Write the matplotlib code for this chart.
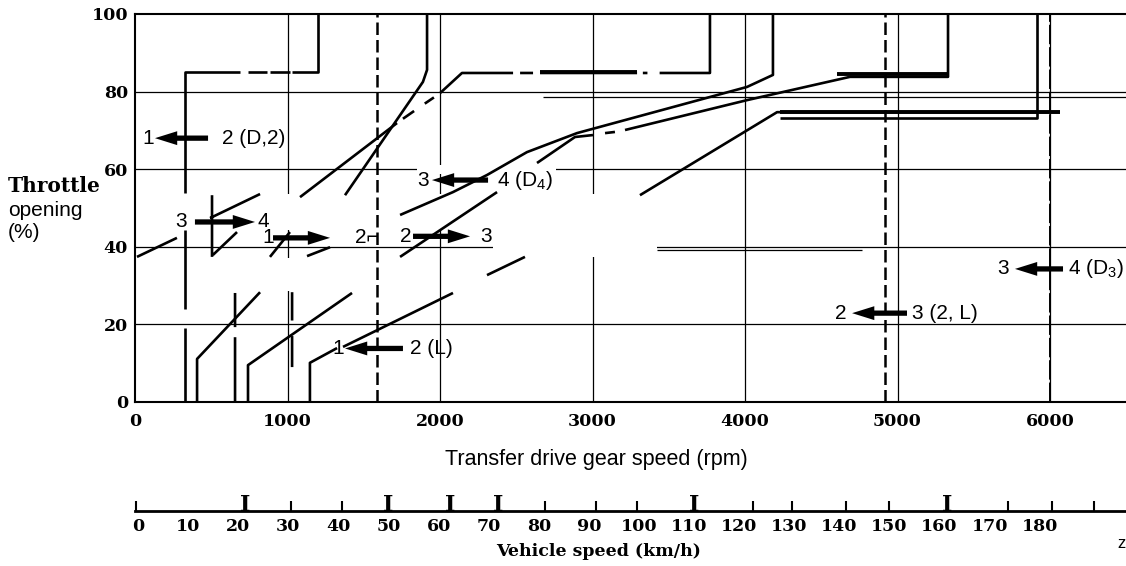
#shift diagram: throttle opening vs transfer drive gear speed, with a vehicle speed scale below
import numpy as np
import matplotlib
matplotlib.use('Agg')
import matplotlib.pyplot as plt
from matplotlib.patches import Rectangle

nan = np.nan

plt.rcParams['font.family'] = ['Liberation Sans', 'DejaVu Sans']
plt.rcParams['mathtext.fontset'] = 'custom'
plt.rcParams['mathtext.rm'] = 'Liberation Sans'
plt.rcParams['mathtext.default'] = 'regular'

#axis values
rpm_ticks = [0, 1000, 2000, 3000, 4000, 5000, 6000]
pct_ticks = [0, 20, 40, 60, 80, 100]
kmh_ticks = list(range(0, 190, 10))
kmh_small = [-0.4, 10, 30.6, 40.8, 81.3, 91.5, 99.5, 122.7, 130.6, 141.4, 149.8, 173.6, 182.4, 190.8]
kmh_big = [21.4, 49.9, 62.3, 71.9, 111.1, 161.6]

#shift lines (rpm, throttle %), nan = break in the printed line
d12_rpm = [328, 328, nan, 328, 328, nan, 328, 328, 689, nan, 741, 865, nan, 885, 1016, nan, 1030, 1200, 1200]
d12_pct = [0, 19, nan, 24, 44.3, nan, 53.9, 85, 85, nan, 85, 85, nan, 85, 85, nan, 85, 85, 100]

u12_rpm = [407, 407, 820, nan, 885, 1016, nan, 1377, 1888, 1915, 1915]
u12_pct = [0, 11.1, 28.3, nan, 37.4, 43.8, nan, 53.3, 82.5, 85.6, 100]

u23_rpm = [741, 741, 1423, nan, 1738, 2374, nan, 2636, 2885, 3003, nan, 3082, 3147, nan, 3213, 4013, 4688, 5331, 5331]
u23_pct = [0, 9.5, 28.1, nan, 37.4, 54.1, nan, 61.6, 68.3, 68.8, nan, 69.3, 69.6, nan, 70.1, 77.8, 83.8, 83.8, 100]

d34_rpm = [1128, 1279, nan, 1738, 2085, 2308, 2570, 2898, 4013, 4183, 4183]
d34_pct = [37.6, 39.9, nan, 48.2, 54.1, 58.5, 64.4, 69.3, 81.2, 84.3, 100]

u34_rpm = [1147, 1147, 1325, nan, 1364, 2085, nan, 2308, 2557, nan, 3311, 4210, 6065]
u34_pct = [0, 10.1, 13.9, nan, 14.2, 28.1, nan, 32.7, 37.4, nan, 53.3, 74.7, 74.7]

kd_rpm = [4229, 5915, 5915]
kd_pct = [73.2, 73.2, 100]

u23b_rpm = [1082, 1718, nan, 1757, 1830, nan, 1900, 1960, nan, 2000, 2144, 2479, nan, 2525, 2610,
            nan, 2656, 3292, nan, 3330, 3360, nan, 3440, 3770, 3770]
u23b_pct = [52.8, 71.9, nan, 73.0, 75.0, nan, 76.9, 78.5, nan, 79.6, 84.8, 84.8, nan, 84.8, 84.8,
            nan, 84.8, 84.8, nan, 84.8, 84.8, nan, 84.8, 84.8, 100]

short_rpm = [13, 275, nan, 511, 669, nan, 492, 820, nan, 505, 505, nan, 656, 656, nan, 656, 656,
             nan, 1030, 1030, nan, 1030, 1030]
short_pct = [37.4, 42.3, nan, 37.9, 43.8, nan, 47.4, 53.6, nan, 37.4, 53.3, nan, 0, 16.7, nan, 19.3, 28.1,
             nan, 9.0, 17.0, nan, 21.0, 28.3]

#heavy horizontal bars: start rpm, end rpm, throttle
bar_start = [2656, 4603, 4229]
bar_end = [3292, 5331, 6065]
bar_pct = [85.0, 84.6, 74.7]

#dashed vertical downshift lines
dash_rpm = [1587, 4918]
dashdot_rpm = [6000]

#extra thin horizontals
extra_start = [2675, 3420]
extra_end = [6498, 4770]
extra_pct = [78.6, 39.3]

#blank areas of the printed sheet: rpm0, rpm1, pct0, pct1
blank_bands = [(150, 3400, 44.3, 53.6), (150, 1750, 28.6, 37.2), (2350, 3420, 37.3, 53.6), (1850, 2760, 58.8, 61.0)]

#shift labels: left text, left text x, arrow tail, arrow tip, right text, right text x, throttle
label_left = ['1', '3', '3', '1', '2', '1', '2', '3']
label_left_x = [85, 1888, 302, 872, 1777, 1331, 4629, 5691]
arrow_tail = [479, 2315, 393, 905, 1823, 1757, 5062, 6085]
arrow_tip = [131, 1947, 787, 1279, 2197, 1377, 4702, 5770]
label_right = ['2 (D,2)', '4 (D$_4$)', '4', '2\u2310', '3', '2 (L)', '3 (2, L)', '4 (D$_3$)']
label_right_x = [570, 2374, 800, 1443, 2262, 1803, 5095, 6118]
label_pct = [68.0, 57.2, 46.4, 42.3, 42.7, 13.8, 22.9, 34.3]

serif = dict(family='DejaVu Serif', weight='bold')

fig = plt.figure(figsize=(11.26, 5.66), dpi=100)
ax = fig.add_axes([135/1126, 1-402/566, 991/1126, 388/566])
ax.set_xlim(0, 6498)
ax.set_ylim(0, 100)

#grid
ax.vlines(rpm_ticks[1:], 0, 100, colors='k', lw=0.9, zorder=1)
ax.hlines(pct_ticks[1:-1], 0, 6498, colors='k', lw=0.9, zorder=1)
ax.hlines(extra_pct, extra_start, extra_end, colors='k', lw=0.9, zorder=1)
for r0, r1, p0, p1 in blank_bands:
    ax.add_patch(Rectangle((r0, p0), r1-r0, p1-p0, fc='white', ec='none', zorder=1.5))

#shift lines
for xs, ys in [(d12_rpm, d12_pct), (u12_rpm, u12_pct), (u23_rpm, u23_pct), (d34_rpm, d34_pct),
               (u34_rpm, u34_pct), (kd_rpm, kd_pct), (u23b_rpm, u23b_pct), (short_rpm, short_pct)]:
    ax.plot(xs, ys, color='k', lw=1.9, solid_capstyle='butt', zorder=3)
ax.hlines(bar_pct, bar_start, bar_end, colors='k', lw=2.8, zorder=3)
ax.vlines(dash_rpm, 0, 100, colors='k', lw=1.8, linestyles=(0, (5, 2)), zorder=3)
ax.vlines(dashdot_rpm, 0, 100, colors='k', lw=1.4, linestyles=(0, (10, 1.5)), zorder=3)

#shift labels with arrows
for i in range(len(label_left)):
    y = label_pct[i]
    ax.text(label_left_x[i], y, label_left[i], ha='center', va='center', fontsize=15, zorder=5)
    ax.text(label_right_x[i], y, label_right[i], ha='left', va='center', fontsize=15, zorder=5)
    ax.annotate('', xy=(arrow_tip[i], y), xytext=(arrow_tail[i], y),
                arrowprops=dict(arrowstyle='simple,head_length=1.6,head_width=1.0,tail_width=0.38',
                                fc='k', ec='k', lw=0, shrinkA=0, shrinkB=0, mutation_scale=10), zorder=4)

#axes look
for s in ['left', 'top', 'bottom']:
    ax.spines[s].set_linewidth(1.5)
ax.spines['right'].set_visible(False)
ax.set_xticks(rpm_ticks, labels=[str(v) for v in rpm_ticks], fontsize=12.5, **serif)
ax.set_yticks(pct_ticks, labels=[str(v) for v in pct_ticks], fontsize=12.5, **serif)
ax.tick_params(axis='x', length=0, pad=8)
ax.tick_params(axis='y', length=0, pad=5)

fig.text(8/1126, 1-186/566, 'Throttle', ha='left', va='center', fontsize=14.5, **serif)
fig.text(8/1126, 1-210/566, 'opening', ha='left', va='center', fontsize=15)
fig.text(8/1126, 1-233/566, '(%)', ha='left', va='center', fontsize=15)
fig.text(596/1126, 1-459/566, 'Transfer drive gear speed (rpm)', ha='center', va='center', fontsize=15.5)

#vehicle speed scale
ax2 = fig.add_axes([135/1126, 1-511/566, 991/1126, 0.002])
ax2.set_xlim(-0.6, 197.2)
ax2.set_ylim(0, 1)
for s in ['left', 'top', 'right']:
    ax2.spines[s].set_visible(False)
ax2.spines['bottom'].set_linewidth(2.0)
ax2.set_yticks([])
ax2.set_xticks(kmh_ticks, labels=[str(v) for v in kmh_ticks], fontsize=12.5, **serif)
ax2.tick_params(axis='x', which='major', length=0, pad=5)
ax2.set_xticks(kmh_small, minor=True)
ax2.tick_params(axis='x', which='minor', direction='in', length=7, width=1.5)
for v in kmh_big:
    ax2.text(v, 0, 'I', transform=ax2.get_xaxis_transform(), ha='center', va='baseline',
             fontsize=16, **serif)

fig.text(599/1126, 1-551/566, 'Vehicle speed (km/h)', ha='center', va='center', fontsize=12.5, **serif)
fig.text(1121/1126, 1-543/566, 'z', ha='center', va='center', fontsize=12)

plt.savefig('out.png', dpi=100)
